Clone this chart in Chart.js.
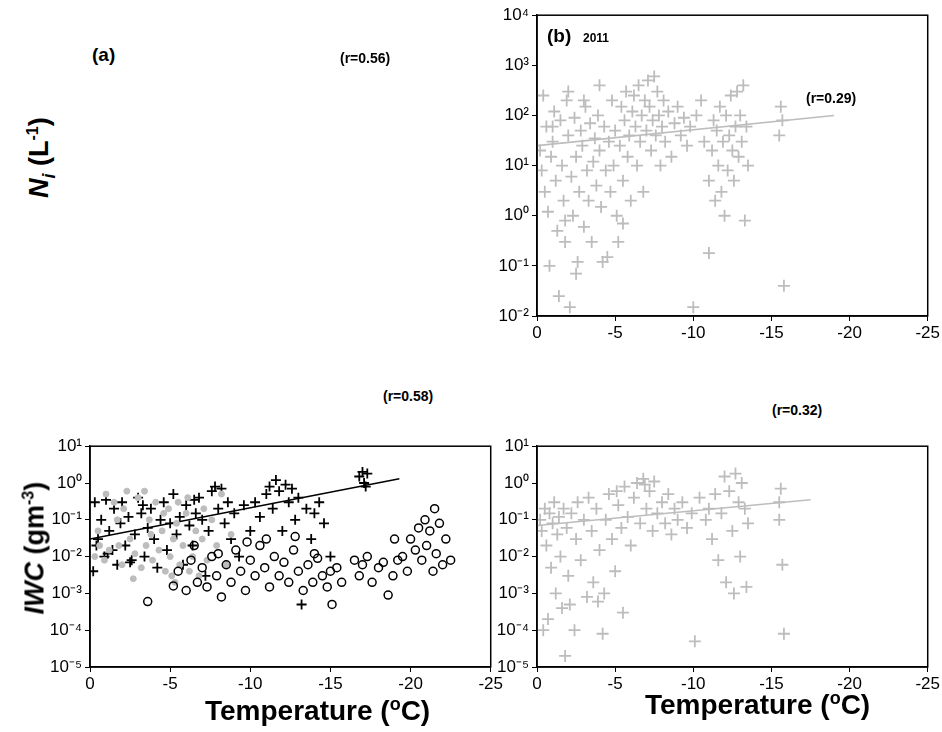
<!DOCTYPE html>
<html>
<head>
<meta charset="utf-8">
<script src="https://cdn.jsdelivr.net/npm/chart.js@4.4.0/dist/chart.umd.min.js"></script>
<style>
  body { margin: 0; background: #fff; font-family: "Liberation Sans", Arial, sans-serif; }
  #wrap { position: relative; width: 942px; height: 732px; overflow: hidden; }
  canvas { position: absolute; }
  .t { position: absolute; font-weight: bold; color: #000; white-space: nowrap; }
  .yl { position: absolute; font-weight: bold; font-size: 27px; transform: rotate(-90deg); transform-origin: center; white-space: nowrap; }
</style>
</head>
<body>
<div id="wrap">
  <canvas id="cb" style="left:482px;top:2px;width:460px;height:344px" width="460" height="344"></canvas>
  <canvas id="cc" style="left:35px;top:433px;width:470px;height:264px" width="470" height="264"></canvas>
  <canvas id="cd" style="left:482px;top:433px;width:460px;height:264px" width="460" height="264"></canvas>

  <div class="t" style="left:92px;top:44px;font-size:19px">(a)</div>
  <div class="t" style="left:340px;top:50px;font-size:14px">(r=0.56)</div>
  <div class="t" style="left:547px;top:25px;font-size:19px">(b)</div>
  <div class="t" style="left:583px;top:31px;font-size:12px">2011</div>
  <div class="t" style="left:806px;top:90px;font-size:14px">(r=0.29)</div>
  <div class="t" style="left:383px;top:388px;font-size:14px">(r=0.58)</div>
  <div class="t" style="left:772px;top:402px;font-size:14px">(r=0.32)</div>
  <div class="yl" style="left:-8px;top:140px;width:100px;text-align:center"><i>N<sub style="font-size:18px">i</sub></i> (L<sup style="font-size:16px">-1</sup>)</div>
  <div class="yl" style="left:-30px;top:534px;width:130px;text-align:center"><i>IWC</i> (gm<sup style="font-size:16px">-3</sup>)</div>
  <div class="t" style="left:205px;top:694px;font-size:28px">Temperature (<sup style="font-size:18px">o</sup>C)</div>
  <div class="t" style="left:645px;top:688px;font-size:28px">Temperature (<sup style="font-size:18px">o</sup>C)</div>
</div>
<script>
// ─── Data ───────────────────────────────────────────────────
const xTicks = [0, -5, -10, -15, -20, -25];

// panel (b): Ni 2011, [T, Ni]
const niB = [
  [-0.2,20],[-0.3,8],[-0.4,250],[-0.5,3],[-0.6,60],[-0.7,1.2],[-0.8,0.1],[-0.9,15],[-1,30],[-1.1,120],
  [-1.2,5],[-1.3,0.5],[-1.4,0.025],[-1.5,80],[-1.6,10],[-1.7,2],[-1.8,0.3],[-1.9,200],[-2,40],[-2.1,0.015],
  [-2.2,6],[-2.3,1],[-2.4,90],[-2.5,15],[-2.6,0.12],[-2.7,3],[-2.8,50],[-2.9,25],[-3,0.6],[-3.1,150],
  [-3.2,8],[-3.3,2],[-3.4,70],[-3.5,0.3],[-3.6,12],[-3.7,35],[-3.8,4],[-3.9,100],[-4,20],[-4.1,1.5],
  [-4.2,0.12],[-4.3,60],[-4.4,8],[-4.5,0.15],[-4.6,30],[-4.7,3],[-4.8,200],[-4.9,10],[-5,50],[-5.1,1],
  [-5.2,0.3],[-5.3,25],[-5.4,150],[-5.5,5],[-5.6,80],[-5.7,300],[-5.8,15],[-5.9,40],[-6,2],[-6.1,120],
  [-6.2,250],[-6.3,60],[-6.4,10],[-6.5,400],[-6.6,30],[-6.7,100],[-6.8,3],[-6.9,200],[-7,50],[-7.1,500],
  [-7.2,150],[-7.3,20],[-7.4,80],[-7.5,600],[-7.6,40],[-7.7,300],[-7.8,100],[-7.9,10],[-8,60],[-8.1,200],
  [-8.2,30],[-8.4,120],[-8.6,15],[-8.8,70],[-9,150],[-9.2,40],[-9.4,90],[-9.6,25],[-9.8,60],[-10,0.015],
  [-10.2,100],[-10.5,200],[-10.7,30],[-11,0.18],[-11,5],[-11.2,20],[-11.3,80],[-11.4,2],[-11.5,50],[-11.6,10],
  [-11.7,150],[-11.8,3],[-11.9,30],[-12,1],[-12.1,100],[-12.2,8],[-12.3,40],[-12.4,250],[-12.5,20],[-12.6,5],
  [-12.7,60],[-12.8,300],[-12.9,15],[-13,100],[-13.1,30],[-13.2,400],[-13.3,0.8],[-13.4,60],[-13.5,10],[-15.5,40],
  [-15.7,80],[-15.8,0.04],[-15.6,150],[-4,400],[-2,300],[-1,60],[-3,200],[-5.5,0.7],[-2.5,0.07],[-1.8,0.8]
];

// panel (c): IWC, [T, IWC]
const iwcPlus = [
  [-0.2,0.004],[-0.3,0.3],[-0.5,0.03],[-0.7,0.1],[-0.9,0.01],[-1,0.35],[-1.2,0.05],[-1.4,0.015],[-1.5,0.2],[-1.7,0.006],
  [-1.9,0.08],[-2,0.3],[-2.2,0.02],[-2.4,0.12],[-2.6,0.008],[-2.8,0.04],[-3,0.4],[-3.2,0.15],[-3.4,0.01],[-3.6,0.06],
  [-3.8,0.2],[-4,0.03],[-4.2,0.005],[-4.4,0.1],[-4.6,0.3],[-4.8,0.015],[-5,0.08],[-5.2,0.5],[-5.4,0.04],[-5.6,0.12],
  [-5.8,0.006],[-6,0.25],[-6.2,0.07],[-6.4,0.02],[-6.6,0.15],[-6.8,0.4],[-7,0.1],[-7.2,0.003],[-7.4,0.05],[-7.6,0.6],
  [-7.8,0.8],[-8,0.2],[-8.2,0.7],[-8.4,0.08],[-8.6,0.3],[-8.8,0.03],[-9,0.15],[-9.3,0.01],[-9.6,0.25],[-10,0.05],
  [-10.3,0.3],[-10.6,0.12],[-11,0.5],[-11.2,0.8],[-11.4,0.2],[-11.6,1.2],[-11.8,0.6],[-12,0.05],[-12.2,0.9],[-12.4,0.3],
  [-12.6,0.7],[-12.8,0.1],[-13,0.4],[-13.2,0.0005],[-13.5,0.2],[-13.8,0.03],[-14,0.15],[-14.3,0.3],[-14.6,0.08],[-15,0.01],
  [-16.8,1.5],[-17,2],[-17.1,1],[-17.3,1.8],[-17.2,0.8],[-0.4,0.02],[-1.1,0.012],[-2.5,0.007],[-3.3,0.25],[-6.5,0.35]
];
const iwcDot = [
  [-0.3,0.01],[-0.6,0.02],[-0.9,0.008],[-1.2,0.015],[-1.5,0.3],[-1.8,0.02],[-2,0.006],[-2.3,0.6],[-2.5,0.03],[-2.8,0.012],
  [-3,0.4],[-3.2,0.005],[-3.5,0.02],[-3.7,0.1],[-3.9,0.008],[-4.1,0.3],[-4.3,0.015],[-4.5,0.05],[-4.7,0.004],[-4.9,0.2],
  [-5,0.01],[-5.1,0.003],[-5.2,0.03],[-5.4,0.08],[-5.6,0.006],[-5.8,0.02],[-6,0.15],[-6.2,0.004],[-6.4,0.01],[-6.6,0.05],
  [-6.8,0.003],[-7,0.03],[-7.3,0.008],[-7.6,0.1],[-7.9,0.02],[-8.2,0.5],[-8.5,0.006],[-8.8,0.04],[-1,0.5],[-2.1,0.2],
  [-3.4,0.6],[-4.6,0.15],[-5.3,0.002],[-6.1,0.4],[-0.5,0.05],[-1.7,0.1],[-2.7,0.0025],[-3.8,0.04],[-5.5,0.3],[-7.1,0.2]
];
const iwcCircle = [
  [-3.6,0.0006],[-5.2,0.0016],[-5.5,0.004],[-6,0.0012],[-6.3,0.008],[-6.7,0.002],[-7,0.005],[-7.3,0.0015],[-7.6,0.01],[-7.9,0.003],
  [-8.2,0.0008],[-8.5,0.006],[-8.8,0.002],[-9.1,0.015],[-9.4,0.004],[-9.7,0.0012],[-10,0.008],[-10.3,0.003],[-10.6,0.02],[-10.9,0.005],
  [-11.2,0.0015],[-11.5,0.01],[-11.8,0.003],[-12.1,0.007],[-12.4,0.002],[-12.7,0.015],[-13,0.004],[-13.3,0.0012],[-13.6,0.006],[-13.9,0.002],
  [-14.2,0.009],[-14.5,0.003],[-14.8,0.0015],[-15.1,0.0005],[-15.4,0.005],[-15.7,0.002],[-16.5,0.008],[-16.8,0.003],[-17,0.006],[-17.3,0.01],
  [-17.6,0.002],[-18,0.005],[-18.3,0.007],[-18.6,0.0009],[-18.9,0.003],[-19.2,0.008],[-19.5,0.01],[-19.8,0.004],[-20,0.03],[-20.3,0.015],
  [-20.5,0.06],[-20.7,0.008],[-20.9,0.1],[-21,0.02],[-21.2,0.05],[-21.4,0.004],[-21.5,0.2],[-21.6,0.012],[-21.8,0.08],[-22,0.006],
  [-22.2,0.03],[-22.5,0.008],[-11,0.03],[-9.8,0.025],[-8,0.012],[-6.5,0.02],[-12.8,0.035],[-14,0.012],[-15,0.004],[-19,0.03]
];

// panel (d): IWC 2011, [T, IWC]
const iwcB = [
  [-0.2,0.1],[-0.3,0.05],[-0.4,0.0001],[-0.5,0.2],[-0.6,0.02],[-0.8,0.15],[-0.9,0.005],[-1,0.08],[-1.1,0.3],[-1.2,0.001],
  [-1.3,0.04],[-1.4,0.12],[-1.5,0.01],[-1.6,0.0004],[-1.7,0.2],[-1.8,0.00002],[-1.9,0.06],[-2,0.003],[-2.2,0.15],[-2.4,0.0001],
  [-2.5,0.03],[-2.6,0.3],[-2.8,0.008],[-3,0.1],[-3.2,0.0008],[-3.3,0.4],[-3.5,0.05],[-3.6,0.002],[-3.8,0.2],[-4,0.015],
  [-4.2,0.00008],[-4.4,0.1],[-4.6,0.5],[-4.8,0.03],[-5,0.004],[-5.2,0.25],[-5.4,0.06],[-5.5,0.0003],[-5.6,0.8],[-5.8,0.12],
  [-6,0.02],[-6.2,0.4],[-6.4,1],[-6.6,0.08],[-6.8,1.3],[-7,0.2],[-7.2,0.6],[-7.4,0.05],[-7.5,1.1],[-7.7,0.15],
  [-8,0.3],[-8.2,0.08],[-8.4,0.5],[-8.6,0.04],[-8.8,0.2],[-9,0.1],[-9.3,0.3],[-9.6,0.06],[-9.9,0.15],[-10.1,0.00005],
  [-10.4,0.4],[-10.8,0.1],[-11,0.2],[-11.2,0.03],[-11.4,0.5],[-11.6,0.008],[-11.8,0.15],[-12,1.5],[-12.1,0.002],[-12.3,0.6],
  [-12.5,0.05],[-12.6,0.001],[-12.7,1.8],[-12.9,0.3],[-13,0.01],[-13.1,1],[-13.3,0.2],[-13.4,0.0015],[-13.5,0.08],[-15.5,0.3],
  [-15.6,0.7],[-15.8,0.00008],[-15.7,0.006],[-15.5,0.1],[-0.7,0.0002],[-2.1,0.0005],[-3.9,0.0006],[-5.1,0.6],[-6.9,0.9],[-4.3,0.001]
];

// regression lines
const fitNiB = [[0, 25], [-19, 100]];
const fitIwcC = [[0, 0.03], [-19.3, 1.3]];
const fitIwcD = [[0, 0.07], [-17.5, 0.35]];

// ─── Helpers ────────────────────────────────────────────────

const SUP = { '-': '⁻', '0': '⁰', '1': '¹', '2': '²', '3': '³', '4': '⁴', '5': '⁵' };
const pow10 = v => {
  const e = Math.round(Math.log10(v));
  if (Math.abs(Math.log10(v) - e) > 1e-6) return '';
  return '10' + String(e).split('').map(c => SUP[c]).join('');
};
const pts = arr => arr.map(p => ({ x: p[0], y: p[1] }));

const boxPlugin = {
  id: 'box',
  afterDraw(chart) {
    const a = chart.chartArea, c = chart.ctx;
    c.save();
    c.strokeStyle = '#000';
    c.lineWidth = 1.5;
    c.strokeRect(a.left, a.top, a.right - a.left, a.bottom - a.top);
    c.restore();
  },
};

function makeChart(id, yMin, yMax, datasets, padTop) {
  const ticks = [];
  for (let e = Math.log10(yMin); e <= Math.log10(yMax); e++) ticks.push(Math.pow(10, e));
  new Chart(document.getElementById(id), {
    type: 'scatter',
    data: { datasets },
    options: {
      responsive: false,
      animation: false,
      layout: { padding: { left: 5, right: 7, top: padTop, bottom: 0 } },
      plugins: { legend: { display: false }, tooltip: { enabled: false } },
      scales: {
        x: {
          type: 'linear', min: -25, max: 0, reverse: true,
          afterBuildTicks: s => { s.ticks = xTicks.map(v => ({ value: v })); },
          ticks: { color: '#000', font: { size: 17, family: 'Liberation Sans' }, padding: 2 },
          grid: { drawOnChartArea: false, tickLength: 5, color: '#000' },
          border: { color: '#000', width: 1.5 },
          afterFit: s => { s.height = 30; },
        },
        y: {
          type: 'logarithmic', min: yMin, max: yMax,
          afterBuildTicks: s => { s.ticks = ticks.map(v => ({ value: v })); },
          ticks: { color: '#000', font: { size: 17, family: 'Liberation Sans' }, callback: v => pow10(v), padding: 3 },
          grid: { drawOnChartArea: false, tickLength: 5, color: '#000' },
          border: { color: '#000', width: 1.5 },
          afterFit: s => { s.width = 50; },
        },
      },
    },
    plugins: [boxPlugin],
  });
}

const cross = (data, color, r) => ({
  data: pts(data), pointStyle: 'cross', pointRadius: r, borderColor: color, borderWidth: 1.8, backgroundColor: color,
});
const fit = (data, color) => ({
  data: pts(data), type: 'line', showLine: true, pointRadius: 0, borderColor: color, borderWidth: 1.6, fill: false,
});

// ─── Render ─────────────────────────────────────────────────

makeChart('cb', 0.01, 10000, [cross(niB, '#bdbdbd', 6), fit(fitNiB, '#bdbdbd')], 10);

makeChart('cc', 0.00001, 10, [
  { data: pts(iwcCircle), pointStyle: 'circle', pointRadius: 4, borderColor: '#000', borderWidth: 1.5, backgroundColor: 'rgba(255,255,255,0)' },
  { data: pts(iwcDot), pointStyle: 'circle', pointRadius: 3, borderColor: '#bdbdbd', backgroundColor: '#bdbdbd' },
  cross(iwcPlus, '#000', 5),
  fit(fitIwcC, '#000'),
], 10);

makeChart('cd', 0.00001, 10, [cross(iwcB, '#bdbdbd', 6), fit(fitIwcD, '#bdbdbd')], 10);
</script>
</body>
</html>
